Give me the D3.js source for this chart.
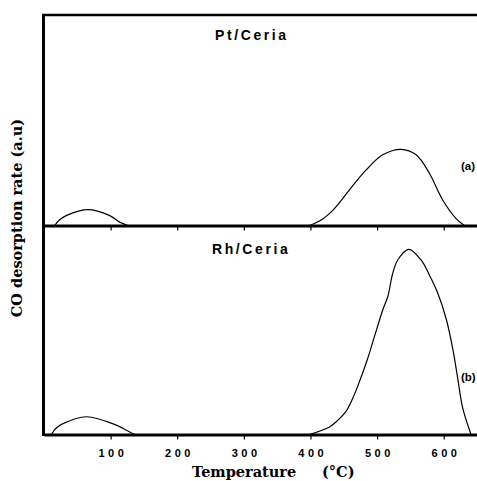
<!DOCTYPE html>
<html>
<head>
<meta charset="utf-8">
<script src="https://cdn.jsdelivr.net/npm/d3@7"></script>
<style>
  body { margin: 0; background: #fff; }
  .tick-lbl { font-family: "Liberation Sans", Arial, sans-serif; font-weight: bold; font-size: 11px; letter-spacing: 3.5px; }
  .panel-lbl { font-family: "Liberation Sans", Arial, sans-serif; font-weight: bold; font-size: 14px; letter-spacing: 2.6px; }
  .tag-lbl { font-family: "Liberation Sans", Arial, sans-serif; font-weight: bold; font-size: 11.5px; }
  .axis-title { font-family: "DejaVu Serif", serif; font-weight: bold; font-size: 14.5px; }
</style>
</head>
<body>
<div class="tpd_chart"></div>
<script>
// 資料 (rate in a.u. 0-100 per panel)
const xTicks = [100, 200, 300, 400, 500, 600]

// Pt/Ceria (a)
const ptLowT  = [16, 23.5, 34, 66, 98, 113.5, 126]
const ptLowY  = [0, 2.7, 4.8, 7.5, 4.8, 1.6, 0]
const ptHighT = [398.6, 416, 433.5, 446, 458.5, 483.6, 508.5, 536, 558.6, 578.5, 598.5, 618.6, 631]
const ptHighY = [0, 2.6, 7.2, 11.8, 16.9, 26.4, 33.6, 36.2, 33.6, 24.8, 12.1, 3.3, 0]

// Rh/Ceria (b)
const rhLowT  = [11, 18, 28.5, 63.6, 108.6, 124, 136]
const rhLowY  = [0, 3.0, 5.2, 8.5, 4.5, 2.0, 0]
const rhHighT = [398.6, 428.6, 441, 453.6, 463, 472, 486, 496, 508.5, 516, 523.5, 531, 547.5, 566, 578.5, 590, 603.6, 613.5, 621, 628.5, 641]
const rhHighY = [0, 3.6, 6.8, 11.2, 17.0, 24.0, 36.5, 46.8, 59.6, 65.9, 77.1, 83.5, 88.6, 83.5, 76.3, 68.5, 55.5, 41.2, 27.0, 12.7, 0]

const svg_width = 477
const svg_height = 481
const frame = {left: 44, right: 477, top: 15, mid: 225.5, bottom: 434.5}

const svg = d3.select('.tpd_chart').append('svg')
  .attr('width', svg_width).attr('height', svg_height)

// scale
const xScale = d3.scaleLinear().domain([0, 650]).range([frame.left, frame.right])
const yTop = d3.scaleLinear().domain([0, 100]).range([frame.mid, frame.top])
const yBot = d3.scaleLinear().domain([0, 100]).range([frame.bottom, frame.mid])

// frame: left & top border
svg.append('line')
  .attr('x1', frame.left - 0.5).attr('x2', frame.left - 0.5)
  .attr('y1', frame.top - 1).attr('y2', frame.bottom + 1.5)
  .attr('stroke', '#000').attr('stroke-width', 3)
svg.append('line')
  .attr('x1', frame.left - 2).attr('x2', frame.right)
  .attr('y1', frame.top).attr('y2', frame.top)
  .attr('stroke', '#000').attr('stroke-width', 2.5)

// curves (drawn before the axes so the thick baseline covers any overshoot)
const line = yScale => d3.line()
  .x(d => xScale(d[0]))
  .y(d => yScale(d[1]))
  .curve(d3.curveCatmullRom.alpha(0.5))

const series = [
  [ptLowT, ptLowY, yTop],
  [ptHighT, ptHighY, yTop],
  [rhLowT, rhLowY, yBot],
  [rhHighT, rhHighY, yBot]
]
series.forEach(([ts, vs, ys]) => {
  svg.append('path')
    .datum(d3.zip(ts, vs))
    .attr('d', line(ys))
    .attr('fill', 'none')
    .attr('stroke', '#000')
    .attr('stroke-width', 1.2)
})

// x axes (ticks point down, same for both panels)
function drawAxis(y, withLabels) {
  const axis = d3.axisBottom(xScale).tickValues(xTicks)
    .tickSizeInner(5).tickSizeOuter(0)
    .tickFormat(withLabels ? d3.format('d') : '')
  const g = svg.append('g').attr('transform', `translate(0,${y})`).call(axis)
  g.select('.domain').attr('stroke-width', 3)
  g.selectAll('.tick line').attr('stroke-width', 1.2)
  g.selectAll('.tick text').attr('class', 'tick-lbl')
    .attr('fill', '#000').attr('dy', '1.35em').attr('dx', '1.75px')
  return g
}
drawAxis(frame.mid, false)
drawAxis(frame.bottom, true)

// panel labels
svg.append('text').attr('class', 'panel-lbl').attr('x', 215).attr('y', 39.5).text('Pt/Ceria')
svg.append('text').attr('class', 'panel-lbl').attr('x', 212).attr('y', 253.5).text('Rh/Ceria')
svg.append('text').attr('class', 'tag-lbl').attr('x', 461).attr('y', 170).text('(a)')
svg.append('text').attr('class', 'tag-lbl').attr('x', 461).attr('y', 381).text('(b)')

// axis titles
svg.append('text').attr('class', 'axis-title')
  .attr('x', 192).attr('y', 477).text('Temperature')
svg.append('text').attr('class', 'axis-title')
  .attr('x', 322).attr('y', 477).text('(°C)')
svg.append('text').attr('class', 'axis-title')
  .attr('text-anchor', 'middle')
  .attr('transform', 'translate(22,218) rotate(-90)')
  .text('CO desorption rate (a.u)')
</script>
</body>
</html>
